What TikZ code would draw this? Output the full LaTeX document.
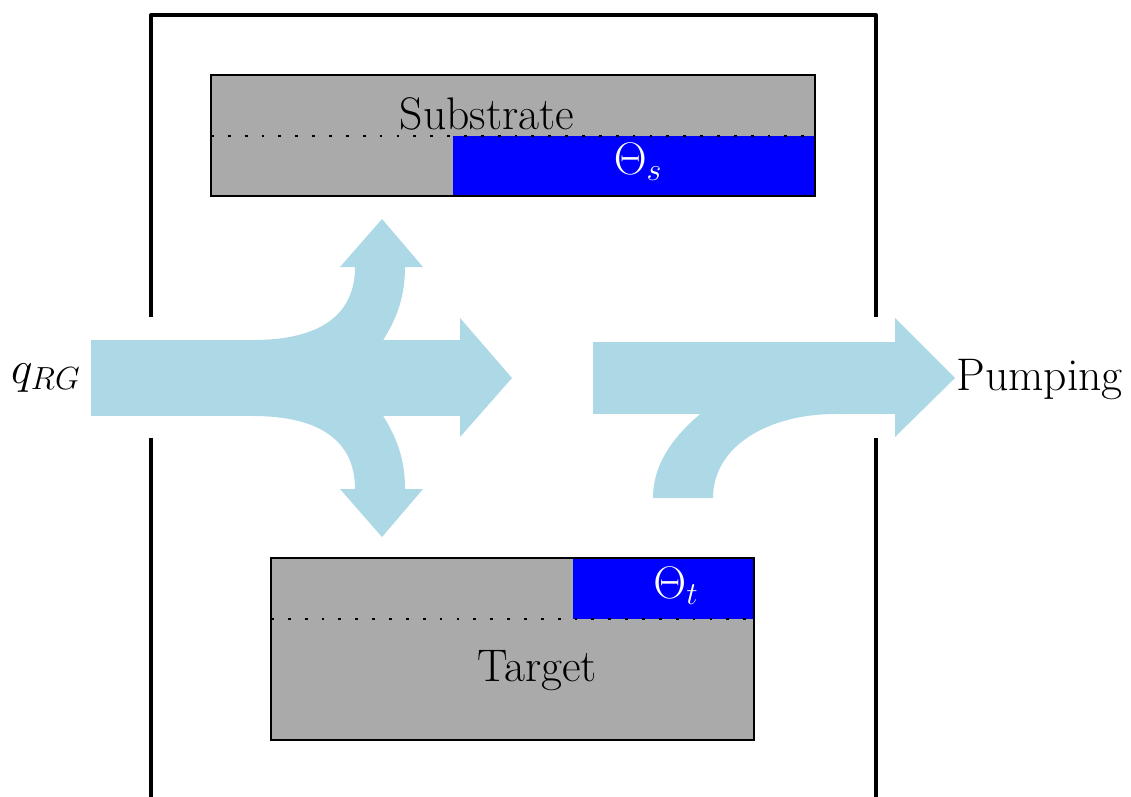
\documentclass[tikz,border=0pt]{standalone}
\usepackage{fix-cm}
\definecolor{flowblue}{RGB}{173,216,230}
\definecolor{plategray}{RGB}{170,170,170}
\newcommand{\labelsize}{\fontsize{26}{31}\selectfont}
\tikzset{
  flow/.style={fill=flowblue, draw=none},
  platefill/.style={fill=plategray, draw=none},
  plateedge/.style={draw=black, line width=0.9pt},
  coverage/.style={fill=blue, draw=none},
  surfaceline/.style={draw=black, line width=1.6pt, dash pattern=on 1.6pt off 8pt},
  chamber/.style={draw=black, line width=2.3pt, line join=round},
  biglabel/.style={font=\labelsize, inner sep=0pt},
  covlabel/.style={font=\labelsize, text=white, inner sep=0pt},
}
\begin{document}
\begin{tikzpicture}[x=0.02cm, y=-0.02cm]
\useasboundingbox (0,0) rectangle (1131,796);

% chamber walls, open where the gas enters and leaves
\draw[chamber] (151,317) -- (151,15) -- (876,15) -- (876,317);
\draw[chamber] (151,438) -- (151,800);
\draw[chamber] (876,438) -- (876,800);

% substrate with its covered fraction
\fill[platefill] (211,75) rectangle (815,196);
\fill[coverage] (453,136) rectangle (815,196);
\draw[surfaceline] (211,136) -- (815,136);
\draw[plateedge] (211,75) rectangle (815,196);
\node[biglabel, anchor=base] (sub) at (487,129) {Substrate};
\node[covlabel, anchor=base] (ths) at (638,174) {$\Theta_s$};

% target with its covered fraction
\fill[platefill] (271,558) rectangle (754,740);
\fill[coverage] (573,558) rectangle (754,619);
\draw[surfaceline] (271,619) -- (754,619);
\draw[plateedge] (271,558) rectangle (754,740);
\node[biglabel, anchor=base] (tgt) at (537,681) {Target};
\node[covlabel, anchor=base] (tht) at (676,598) {$\Theta_t$};

% incoming gas: trunk with three branches
\fill[flow] (91,340) rectangle (461,416);
\fill[flow] (460,318) -- (512,378) -- (460,437) -- cycle;
\fill[flow] (253,340) .. controls (320,340) and (355,315) .. (355,267)
  -- (405,267) .. controls (405,300) and (395,322) .. (380,345)
  -- (253,345) -- cycle;
\fill[flow] (340,267) -- (382,219) -- (423,267) -- cycle;
\fill[flow] (253,416) .. controls (320,416) and (355,441) .. (355,489)
  -- (405,489) .. controls (405,456) and (395,434) .. (380,411)
  -- (253,411) -- cycle;
\fill[flow] (340,489) -- (382,537) -- (423,489) -- cycle;

% outgoing gas joined by the stream from below
\fill[flow] (593,342) rectangle (896,414);
\fill[flow] (895,318) -- (955,378) -- (895,437) -- cycle;
\fill[flow] (653,498) .. controls (653,460) and (678,432) .. (705,410)
  -- (835,410) -- (835,414) .. controls (770,414) and (713,445) .. (713,498)
  -- cycle;

% inflow and outflow labels
\node[biglabel, anchor=base east] (qin) at (81,383) {$q_{RG}$};
\node[biglabel, anchor=base west] (pump) at (956,390) {Pumping};
\end{tikzpicture}
\end{document}
